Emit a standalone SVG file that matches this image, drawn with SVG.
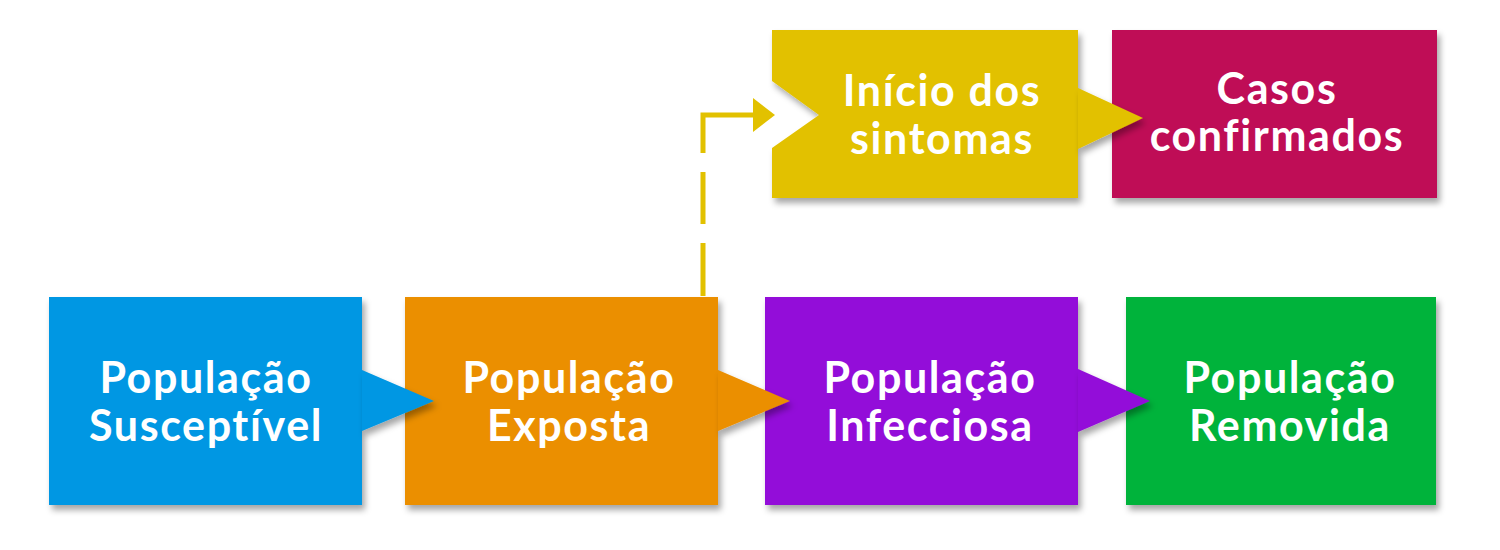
<svg xmlns="http://www.w3.org/2000/svg" width="1500" height="550" viewBox="0 0 1500 550">
<defs>
<filter id="sh" x="-10%" y="-10%" width="130%" height="130%">
<feDropShadow dx="3" dy="5" stdDeviation="3" flood-color="#000" flood-opacity="0.35"/>
</filter>
<marker id="ah" viewBox="0 0 22 34" refX="0" refY="17" markerWidth="22" markerHeight="34" markerUnits="userSpaceOnUse" orient="auto">
<path d="M0,0 L22,17 L0,34 Z" fill="#E2C100"/>
</marker>
</defs>
<style>
.box{filter:url(#sh)}
.t{font-family:Lato,"Open Sans","Liberation Sans",sans-serif;font-weight:700;font-size:43px;letter-spacing:1.6px;fill:#fff;text-anchor:middle}
.tri{filter:url(#sh)}
</style>
<rect width="1500" height="550" fill="#fff"/>
<g id="node-suscetivel">
<rect class="box" x="49" y="297" width="313" height="208" fill="#0397E3"/>
<text class="t" x="206" y="393">População</text>
<text class="t" x="206" y="441">Susceptível</text>
</g>
<g id="node-exposta">
<rect class="box" x="405" y="297" width="313" height="208" fill="#EB8F00"/>
<text class="t" x="569" y="393">População</text>
<text class="t" x="569" y="441">Exposta</text>
</g>
<g id="node-infecciosa">
<rect class="box" x="765" y="297" width="313" height="208" fill="#9311D9"/>
<text class="t" x="930" y="393">População</text>
<text class="t" x="930" y="441">Infecciosa</text>
</g>
<g id="node-removida">
<rect class="box" x="1126" y="297" width="310" height="208" fill="#00B33A"/>
<text class="t" x="1290" y="393">População</text>
<text class="t" x="1290" y="441">Removida</text>
</g>
<g id="node-sintomas">
<polygon class="box" points="772,30 1078,30 1078,198 772,198 772,148 819,115 772,81" fill="#E2C100"/>
<text class="t" x="942" y="106">Início dos</text>
<text class="t" x="942" y="154">sintomas</text>
</g>
<g id="node-confirmados">
<rect class="box" x="1112" y="30" width="325" height="168" fill="#BF0857"/>
<text class="t" x="1277" y="104">Casos</text>
<text class="t" x="1277" y="151">confirmados</text>
</g>
<g id="connectors">
<polygon class="tri" points="362,370 434,401 362,431" fill="#0397E3"/>
<polygon class="tri" points="718,370 790,401 718,431" fill="#EB8F00"/>
<polygon class="tri" points="1078,369 1150,401 1078,432" fill="#9311D9"/>
<polygon class="tri" points="1078,88 1143,118 1078,149" fill="#E2C100"/>
<path d="M703,296 V115 H753" fill="none" stroke="#E2C100" stroke-width="5" stroke-dasharray="53 19 52 19 300" marker-end="url(#ah)"/>
</g>
</svg>
